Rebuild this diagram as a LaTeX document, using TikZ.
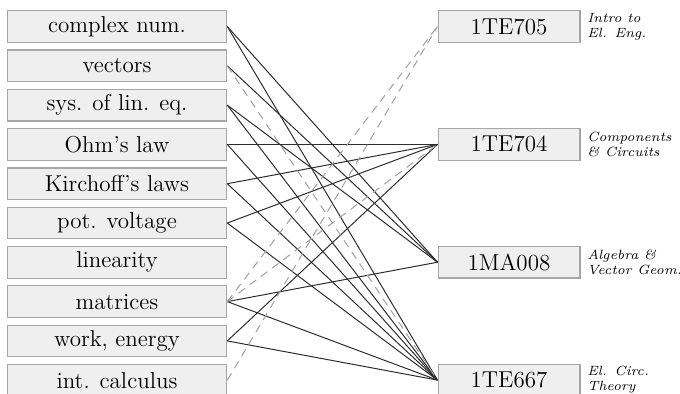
\documentclass[tikz,border=0pt]{standalone}
\usepackage{tikz}
\usetikzlibrary{positioning}
\definecolor{boxfill}{HTML}{EFEFEF}
\definecolor{boxline}{HTML}{A6A6A6}
\definecolor{linkdark}{HTML}{2E2E2E}
\definecolor{linkgray}{HTML}{A0A0A0}

\begin{document}
\begin{tikzpicture}[x=0.5pt,y=-0.5pt,
  topic/.style={draw=boxline,fill=boxfill,line width=0.6pt,minimum width=109.7pt,
    minimum height=15.8pt,inner sep=0pt,font=\fontsize{11.5}{13}\selectfont},
  course/.style={topic,minimum width=70.9pt},
  cname/.style={anchor=west,align=left,inner sep=0pt,font=\fontsize{6.7}{7.5}\selectfont\itshape},
  req/.style={linkdark,line width=0.5pt},
  opt/.style={linkgray,line width=0.5pt,dash pattern=on 4pt off 3pt}]
  \useasboundingbox (0,0) rectangle (680,393);

  % Topics
  \foreach \name/\txt [count=\i from 0] in {cplx/complex num., vec/vectors,
      sys/sys. of lin. eq., ohm/Ohm's law, kirch/Kirchoff's laws, pot/pot. voltage,
      lin/linearity, mat/matrices, work/{work, energy}, integ/int. calculus}
    \node[topic] (\name) at (117,26.5+39.3*\i) {\txt};

  % Courses
  \node[course] (te705) at (509,26.5)  {1TE705};
  \node[course] (te704) at (509,144.4) {1TE704};
  \node[course] (ma008) at (509,262.2) {1MA008};
  \node[course] (te667) at (509,380.1) {1TE667};
  \node[cname,right=3.2pt of te705] (te705n) {Intro to\\El. Eng.};
  \node[cname,right=3.2pt of te704] (te704n) {Components\\\& Circuits};
  \node[cname,right=3.2pt of ma008] (ma008n) {Algebra \&\\Vector Geom.};
  \node[cname,right=3.2pt of te667] (te667n) {El. Circ.\\Theory};

  % Links
  \foreach \a/\b in {cplx/ma008, cplx/te667, vec/ma008, sys/ma008, sys/te667,
      ohm/te704, ohm/te667, kirch/te704, kirch/te667, pot/te704, pot/te667,
      mat/ma008, mat/te667, work/te704, work/te667}
    \draw[req] (\a.east) -- (\b.west);
  \foreach \a/\b in {vec/te667, mat/te705, mat/te704, integ/te705}
    \draw[opt] (\a.east) -- (\b.west);
\end{tikzpicture}
\end{document}
